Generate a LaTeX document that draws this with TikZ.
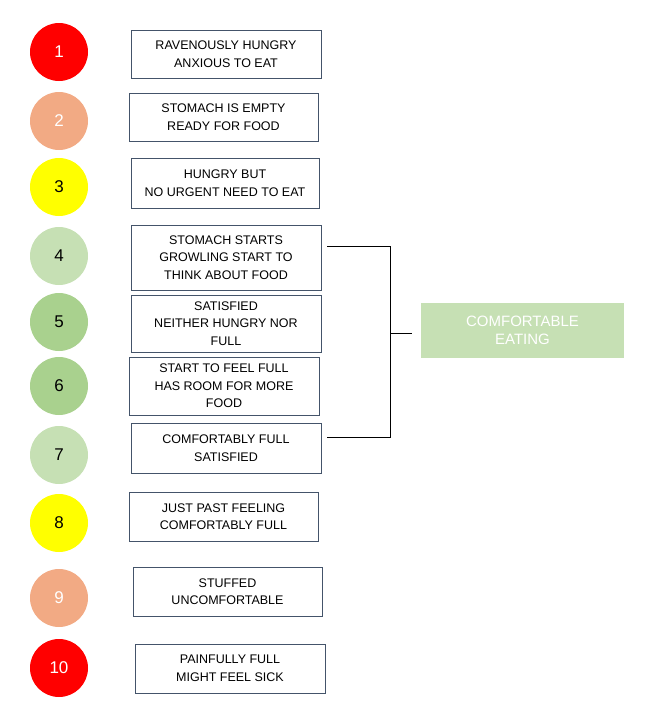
\documentclass[tikz,border=0pt]{standalone}
\usepackage{fontspec}
\setmainfont{Liberation Sans}
\definecolor{hred}{RGB}{255,0,0}
\definecolor{hpeach}{RGB}{242,170,132}
\definecolor{hyellow}{RGB}{255,255,0}
\definecolor{hlight}{RGB}{198,224,180}
\definecolor{hgreen}{RGB}{169,209,142}
\definecolor{hedge}{RGB}{68,84,106}
\tikzset{
  level/.style={shape=circle,minimum size=58pt,inner sep=0pt,font=\fontsize{17}{19}\selectfont},
  state/.style={draw=hedge,line width=0.8pt,align=center,inner sep=1pt,font=\fontsize{12.5}{17.5}\selectfont},
}
\begin{document}
\begin{tikzpicture}[x=1pt,y=-1pt]
    \useasboundingbox (0,0) rectangle (667,716);
    % Define levels
    \node[level,fill=hred,text=white] (l1) at (59,52) {1};
    \node[level,fill=hpeach,text=white] (l2) at (59,121) {2};
    \node[level,fill=hyellow] (l3) at (59,187) {3};
    \node[level,fill=hlight] (l4) at (59,256) {4};
    \node[level,fill=hgreen] (l5) at (59,322) {5};
    \node[level,fill=hgreen] (l6) at (59,386) {6};
    \node[level,fill=hlight] (l7) at (59,455) {7};
    \node[level,fill=hyellow] (l8) at (59,523) {8};
    \node[level,fill=hpeach,text=white] (l9) at (59,598) {9};
    \node[level,fill=hred,text=white] (l10) at (59,668) {10};
    % Define descriptions
    \node[state,minimum width=190pt,minimum height=48pt] (s1) at (226,54) {RAVENOUSLY HUNGRY\\ANXIOUS TO EAT};
    \node[state,minimum width=189pt,minimum height=48pt] (s2) at (223.5,117) {STOMACH IS EMPTY\\READY FOR FOOD};
    \node[state,minimum width=188pt,minimum height=50pt] (s3) at (225,183) {HUNGRY BUT\\NO URGENT NEED TO EAT};
    \node[state,minimum width=190pt,minimum height=65pt] (s4) at (226,257.5) {STOMACH STARTS\\GROWLING START TO\\THINK ABOUT FOOD};
    \node[state,minimum width=190pt,minimum height=57pt] (s5) at (226,323.5) {SATISFIED\\NEITHER HUNGRY NOR\\FULL};
    \node[state,minimum width=190pt,minimum height=58pt] (s6) at (224,386) {START TO FEEL FULL\\HAS ROOM FOR MORE\\FOOD};
    \node[state,minimum width=190pt,minimum height=50pt] (s7) at (226,448) {COMFORTABLY FULL\\SATISFIED};
    \node[state,minimum width=189pt,minimum height=49pt] (s8) at (223.5,516.5) {JUST PAST FEELING\\COMFORTABLY FULL};
    \node[state,minimum width=189pt,minimum height=49pt] (s9) at (227.5,591.5) {STUFFED\\UNCOMFORTABLE};
    \node[state,minimum width=190pt,minimum height=49pt] (s10) at (230,668.5) {PAINFULLY FULL\\MIGHT FEEL SICK};
    % Comfortable range
    \node[fill=hlight,text=white,align=center,minimum width=203pt,minimum height=55pt,
          font=\fontsize{15}{18}\selectfont] (range) at (522.5,330.5) {COMFORTABLE\\EATING};
    \coordinate (from4) at (327,246);
    \coordinate (from7) at (327,437);
    \coordinate (top) at (390,246);
    \coordinate (bottom) at (390,437);
    \coordinate (mid) at (390,333);
    \coordinate (tip) at (412,333);
    \draw[line width=0.8pt] (from4) -- (top) -- (bottom) -- (from7);
    \draw[line width=0.8pt] (mid) -- (tip);
\end{tikzpicture}
\end{document}
